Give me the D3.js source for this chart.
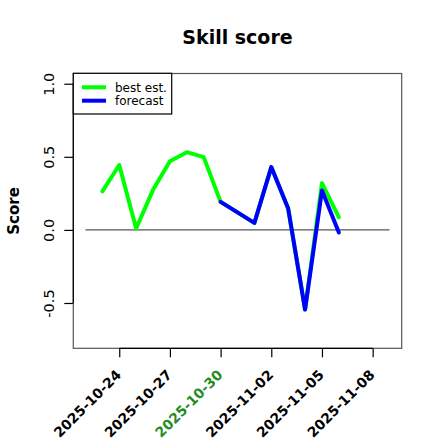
<!DOCTYPE html>
<html><head><meta charset="utf-8">
<script src="https://cdn.jsdelivr.net/npm/d3@7"></script>
<style>html,body{margin:0;padding:0;background:#fff;}</style>
</head><body>
<svg id="c" width="440" height="440"></svg>
<script>
const dates = ["2025-10-23","2025-10-24","2025-10-25","2025-10-26","2025-10-27","2025-10-28","2025-10-29","2025-10-30","2025-10-31","2025-11-01","2025-11-02","2025-11-03","2025-11-04","2025-11-05","2025-11-06"];
const bestEst = [0.264, 0.444, 0.01, 0.274, 0.47, 0.532, 0.498, 0.192, 0.12, 0.046, 0.43, 0.146, -0.545, 0.32, 0.086];
const forecast = [null, null, null, null, null, null, null, 0.192, 0.12, 0.048, 0.43, 0.146, -0.545, 0.27, -0.018];
const xTicks = ["2025-10-24","2025-10-27","2025-10-30","2025-11-02","2025-11-05","2025-11-08"];
const highlightTick = "2025-10-30";
const yTicks = [1.0, 0.5, 0.0, -0.5];
const yTickLabels = ["1.0", "0.5", "0.0", "-0.5"];
const xLim = ["2025-10-22","2025-11-09"];
const yDomain = [-0.81, 1.07];
const seriesNames = ["best est.", "forecast"];
const seriesColors = ["#00ff00", "#0000ff"];

const P = d3.utcParse("%Y-%m-%d");
const svg = d3.select("#c");
const L = 73.3, R = 401.7, T = 73.5, B = 348.3;
const xl = xLim.map(P);
const pad = (xl[1] - xl[0]) * 0.04;
const x = d3.scaleUtc().domain([new Date(+xl[0] - pad), new Date(+xl[1] + pad)]).range([L, R]);
const y = d3.scaleLinear().domain(yDomain).range([B, T]);

// zero line
svg.append("line").attr("x1", x(xl[0])).attr("x2", x(xl[1]))
  .attr("y1", y(0)).attr("y2", y(0)).attr("stroke", "#555").attr("stroke-width", 1.2);

// series
const line = d3.line().defined(d => d.v != null).x(d => x(d.d)).y(d => y(d.v));
[bestEst, forecast].forEach((vals, i) => {
  const data = dates.map((d, k) => ({d: P(d), v: vals[k]}));
  svg.append("path").datum(data).attr("d", line).attr("fill", "none")
    .attr("stroke", seriesColors[i]).attr("stroke-width", 4)
    .attr("stroke-linejoin", "round").attr("stroke-linecap", "round");
});

// box
svg.append("rect").attr("x", L).attr("y", T).attr("width", R - L).attr("height", B - T)
  .attr("fill", "none").attr("stroke", "#555").attr("stroke-width", 1.2);

// y axis
const yAxis = d3.axisLeft(y).tickValues(yTicks).tickSize(9).tickFormat((d, i) => yTickLabels[i]);
const gy = svg.append("g").attr("transform", `translate(${L},0)`).call(yAxis);
gy.select(".domain").attr("d", `M0,${y(yTicks[0])}V${y(yTicks[yTicks.length-1])}`).attr("stroke", "#000").attr("stroke-width", 1.2);
gy.selectAll(".tick line").attr("stroke", "#000").attr("stroke-width", 1.2);
gy.selectAll(".tick text").attr("x", null).attr("dy", null)
  .attr("transform", "translate(-19.5,0) rotate(-90)")
  .attr("text-anchor", "middle").attr("font-family", "DejaVu Sans").attr("font-size", 14.5).attr("fill", "#000");

// x axis
const xt = xTicks.map(P);
const xAxis = d3.axisBottom(x).tickValues(xt).tickSize(9).tickFormat(d3.utcFormat("%Y-%m-%d"));
const gx = svg.append("g").attr("transform", `translate(0,${B})`).call(xAxis);
gx.select(".domain").attr("d", `M${x(xt[0])},0H${x(xt[xt.length-1])}`).attr("stroke", "#000").attr("stroke-width", 1.2);
gx.selectAll(".tick line").attr("stroke", "#000").attr("stroke-width", 1.2);
gx.selectAll(".tick text").attr("y", null).attr("dy", null)
  .attr("transform", "translate(2.4,27.5) rotate(-45)")
  .attr("text-anchor", "end").attr("font-family", "DejaVu Sans").attr("font-weight", "bold")
  .attr("font-size", 13.8)
  .attr("fill", d => d3.utcFormat("%Y-%m-%d")(d) === highlightTick ? "#228B22" : "#000");
svg.selectAll(".domain").attr("fill", "none");

// title
svg.append("text").attr("x", (L + R) / 2).attr("y", 44).attr("text-anchor", "middle")
  .attr("font-family", "DejaVu Sans").attr("font-weight", "bold").attr("font-size", 19).text("Skill score");
// y label
svg.append("text").attr("transform", `translate(18.5,${(T + B) / 2}) rotate(-90)`).attr("text-anchor", "middle")
  .attr("font-family", "DejaVu Sans").attr("font-weight", "bold").attr("font-size", 15).text("Score");

// legend
const lg = svg.append("g");
lg.append("rect").attr("x", 73.3).attr("y", 73.3).attr("width", 98.4).attr("height", 40.7)
  .attr("fill", "#fff").attr("stroke", "#000").attr("stroke-width", 1.2);
seriesNames.forEach((n, i) => {
  const yy = 87.3 + i * 13.4;
  lg.append("line").attr("x1", 82).attr("x2", 106).attr("y1", yy).attr("y2", yy)
    .attr("stroke", seriesColors[i]).attr("stroke-width", 4);
  lg.append("text").attr("x", 115).attr("y", yy).attr("dy", "0.36em")
    .attr("font-family", "DejaVu Sans").attr("font-size", 12).text(n);
});
</script>
</body></html>
